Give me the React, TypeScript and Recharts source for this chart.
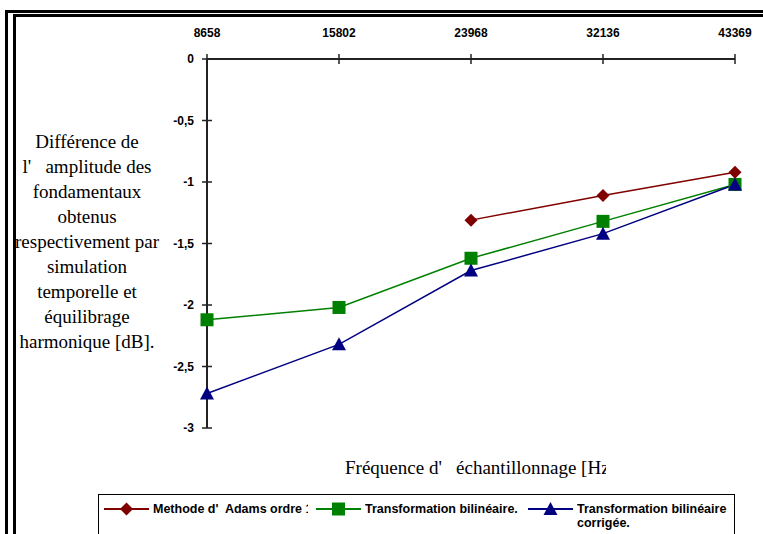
import { LineChart, Line, XAxis, YAxis } from 'recharts';

// Sampling frequencies (Hz) shown on the top category axis
const frequencies = ['8658', '15802', '23968', '32136', '43369'];

// Amplitude difference [dB] per method
const adams = [null, null, -1.31, -1.11, -0.92];
const bilineaire = [-2.12, -2.02, -1.62, -1.32, -1.02];
const corrigee = [-2.72, -2.32, -1.72, -1.42, -1.02];

const yTicks = [0, -0.5, -1, -1.5, -2, -2.5, -3];

const yTitleLines = [
  'Différence de',
  "l'   amplitude des",
  'fondamentaux',
  'obtenus',
  'respectivement par',
  'simulation',
  'temporelle et',
  'équilibrage',
  'harmonique [dB].',
];

const xTitle = "Fréquence d'   échantillonnage [Hz]";

const data = frequencies.map((freq, i) => ({
  freq,
  adams: adams[i],
  bilineaire: bilineaire[i],
  corrigee: corrigee[i],
}));

const RED = '#800000';
const GREEN = '#008000';
const BLUE = '#000080';
const AXIS = '#222';
const SANS = '"Liberation Sans", Arial, sans-serif';
const SERIF = '"Liberation Serif", "Times New Roman", serif';

if (typeof document !== 'undefined') document.body.style.margin = '0';

const Diamond = ({ cx, cy, color, r = 6.5 }: any) =>
  cx == null || cy == null ? <g /> : (
    <polygon points={`${cx},${cy - r} ${cx + r},${cy} ${cx},${cy + r} ${cx - r},${cy}`} fill={color} />
  );

const Square = ({ cx, cy, color, r = 6.5 }: any) =>
  cx == null || cy == null ? <g /> : <rect x={cx - r} y={cy - r} width={r * 2} height={r * 2} fill={color} />;

const Triangle = ({ cx, cy, color }: any) =>
  cx == null || cy == null ? <g /> : (
    <polygon points={`${cx},${cy - 7} ${cx + 7},${cy + 6} ${cx - 7},${cy + 6}`} fill={color} />
  );

const XTick = ({ x, y, payload }: any) => (
  <g>
    <line x1={x} x2={x} y1={y - 5} y2={y + 5} stroke={AXIS} strokeWidth={1.5} />
    <text x={x} y={y - 22} textAnchor="middle" fontFamily={SANS} fontWeight="bold" fontSize={12} fill="#000">
      {payload.value}
    </text>
  </g>
);

const YTick = ({ x, y, payload }: any) => (
  <g>
    <line x1={x - 5} x2={x + 5} y1={y} y2={y} stroke={AXIS} strokeWidth={1.5} />
    <text x={x - 13} y={y + 4} textAnchor="end" fontFamily={SANS} fontWeight="bold" fontSize={12} fill="#000">
      {String(payload.value).replace('.', ',')}
    </text>
  </g>
);

// three equal legend columns, text clipped / wrapped to its column
const legendItems = [
  { name: "Methode d'  Adams ordre 1", color: RED, Marker: Diamond, clip: 155 },
  { name: 'Transformation bilinéaire.', color: GREEN, Marker: Square, clip: 160 },
  { name: 'Transformation bilinéaire\ncorrigée.', color: BLUE, Marker: Triangle, clip: 158 },
];
const COL = 212;

export default function App() {
  return (
    <div style={{ position: 'relative', width: 763, height: 534, overflow: 'hidden', background: '#fff' }}>
      {/* double frame */}
      <div style={{ position: 'absolute', left: 5, top: 10, right: -10, bottom: -10, borderLeft: '3px solid #000', borderTop: '3px solid #000' }} />
      <div style={{ position: 'absolute', left: 13, top: 14, right: -10, bottom: -10, borderLeft: '3px solid #000', borderTop: '3px solid #000' }} />

      <LineChart
        width={763}
        height={534}
        data={data}
        margin={{ top: 29, right: 28, bottom: 106, left: 157 }}
        style={{ position: 'absolute', left: 0, top: 0 }}
      >
        <XAxis
          dataKey="freq"
          orientation="top"
          height={30}
          interval={0}
          tickSize={0}
          tickMargin={0}
          axisLine={{ stroke: AXIS, strokeWidth: 2 }}
          tickLine={false}
          tick={<XTick />}
        />
        <YAxis
          type="number"
          domain={[-3, 0]}
          ticks={yTicks}
          width={50}
          tickSize={0}
          tickMargin={0}
          axisLine={{ stroke: AXIS, strokeWidth: 2 }}
          tickLine={false}
          tick={<YTick />}
        />
        <Line
          dataKey="adams"
          stroke={RED}
          strokeWidth={1.5}
          isAnimationActive={false}
          dot={(p: any) => <Diamond key={p.index} cx={p.cx} cy={p.cy} color={RED} />}
        />
        <Line
          dataKey="bilineaire"
          stroke={GREEN}
          strokeWidth={1.5}
          isAnimationActive={false}
          dot={(p: any) => <Square key={p.index} cx={p.cx} cy={p.cy} color={GREEN} />}
        />
        <Line
          dataKey="corrigee"
          stroke={BLUE}
          strokeWidth={1.5}
          isAnimationActive={false}
          dot={(p: any) => <Triangle key={p.index} cx={p.cx} cy={p.cy} color={BLUE} />}
        />
      </LineChart>

      {/* Y axis title */}
      <div
        style={{
          position: 'absolute', left: 12, top: 128.5, width: 150, textAlign: 'center',
          fontFamily: SERIF, fontSize: 19, lineHeight: '25.1px', whiteSpace: 'pre', color: '#000',
        }}
      >
        {yTitleLines.join('\n')}
      </div>

      {/* X axis title, clipped as in the original */}
      <div
        style={{
          position: 'absolute', left: 345, top: 456, width: 261, overflow: 'hidden',
          fontFamily: SERIF, fontSize: 19, lineHeight: '24px', whiteSpace: 'pre', color: '#000',
        }}
      >
        {xTitle}
      </div>

      {/* legend */}
      <div style={{ position: 'absolute', left: 98, top: 494, width: 635, height: 60, border: '1px solid #000', background: '#fff' }}>
        {legendItems.map(({ name, color, Marker, clip }, i) => (
          <div key={name}>
            <svg style={{ position: 'absolute', left: 5 + i * COL, top: 6, overflow: 'visible' }} width={45} height={16}>
              <line x1={0} x2={45} y1={8} y2={8} stroke={color} strokeWidth={2} />
              <Marker cx={22.5} cy={8} color={color} />
            </svg>
            <div
              style={{
                position: 'absolute', left: 54 + i * COL, top: 7, width: clip, overflow: 'hidden',
                fontFamily: SANS, fontWeight: 'bold', fontSize: 12.5, lineHeight: '14px', whiteSpace: 'pre', color: '#000',
              }}
            >
              {name}
            </div>
          </div>
        ))}
      </div>
    </div>
  );
}
